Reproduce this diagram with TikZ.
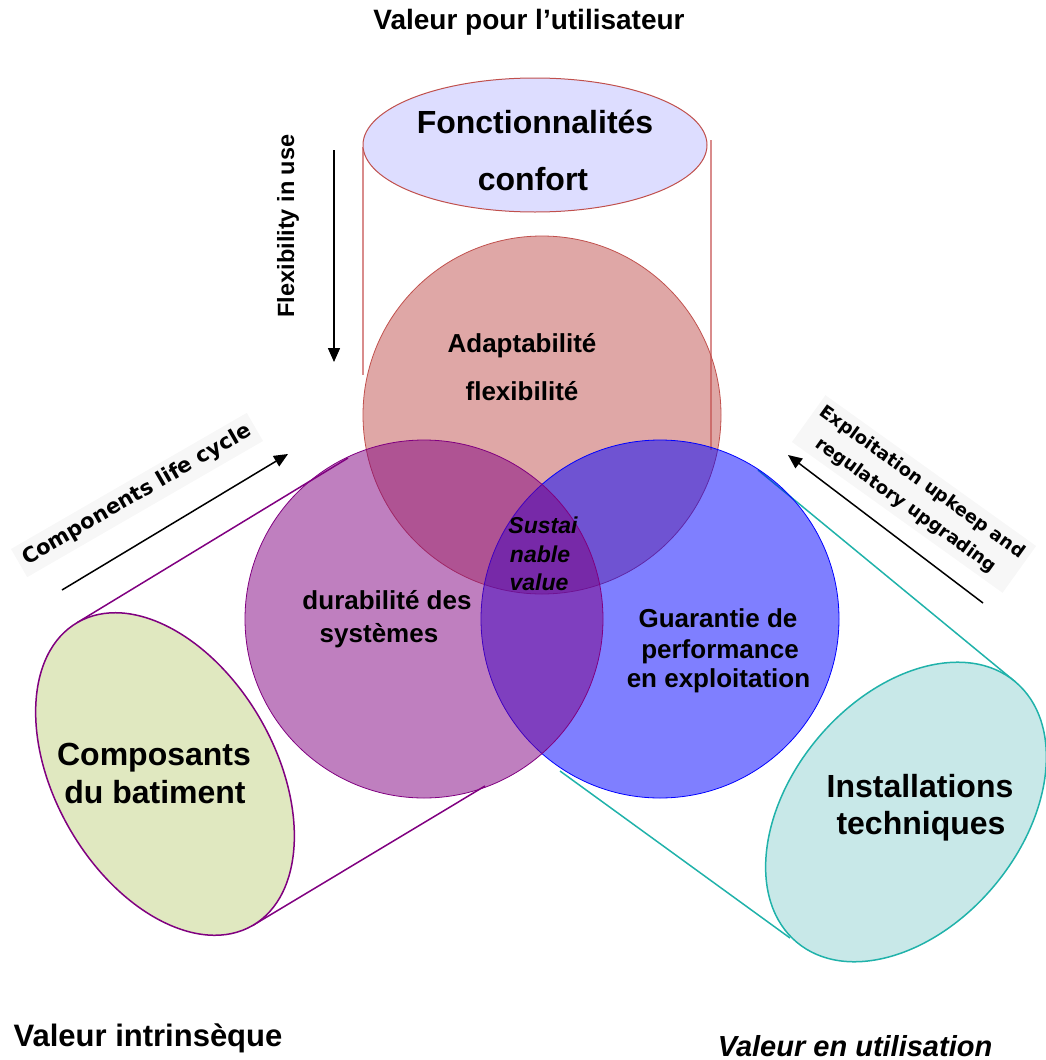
\documentclass[tikz,border=0pt]{standalone}
\usepackage{fontspec}
\setmainfont{Liberation Sans}
\newfontfamily\dejavu{DejaVu Sans}
\usetikzlibrary{arrows.meta}
\definecolor{topred}{HTML}{C0504D}
\definecolor{vpurple}{HTML}{800080}
\definecolor{vblue}{HTML}{0000FF}
\definecolor{lavender}{HTML}{DDDDFF}
\definecolor{olivefill}{HTML}{E0E8C0}
\definecolor{tealfill}{HTML}{C8E8E8}
\definecolor{tealline}{HTML}{20B2AA}
\definecolor{pinkline}{HTML}{D98C8C}
\definecolor{labelbg}{HTML}{F7F7F7}
\begin{document}
\begin{tikzpicture}[x=1pt,y=-1pt,
  txt/.style={inner sep=0pt, anchor=base, font=\fontsize{#1}{#1}\selectfont\bfseries},
  itxt/.style={inner sep=0pt, anchor=base, font=\fontsize{#1}{#1}\selectfont\bfseries\itshape},
  venn/.style={fill=#1, fill opacity=0.5, draw=#1, line width=0.8pt},
  flowarrow/.style={draw=black, line width=1.5pt, -{Triangle[length=14pt,width=12pt]}},
  tangentline/.style={draw=#1, line width=1.5pt},
  sidelabel/.style={fill=labelbg, inner sep=6pt}
]
\useasboundingbox (0,0) rectangle (1046,1060);

% cylinder sides of top ellipse
\coordinate (tl1) at (363,147);
\coordinate (tl2) at (363,375);
\coordinate (tr1) at (711,140);
\coordinate (tr2) at (711,450);
\draw[pinkline, line width=1.2pt] (tl1) -- (tl2);
\draw[pinkline, line width=1.2pt] (tr1) -- (tr2);

% top ellipse
\coordinate (topell) at (535,145);
\draw[fill=lavender, draw=topred, line width=1pt] (topell) ellipse [x radius=172, y radius=67];

% tangent lines to left ellipse
\coordinate (la1) at (77.5,622.4);
\coordinate (la2) at (348,458);
\coordinate (lb1) at (252.5,925.6);
\coordinate (lb2) at (485,786);
\draw[tangentline=vpurple] (la1) -- (la2);
\draw[tangentline=vpurple] (lb1) -- (lb2);

% tangent lines to right ellipse
\coordinate (ra1) at (758,470);
\coordinate (ra2) at (1015.3,681.8);
\coordinate (rb1) at (560,771);
\coordinate (rb2) at (790,938);
\draw[tangentline=tealline] (ra1) -- (ra2);
\draw[tangentline=tealline] (rb1) -- (rb2);

% side ellipses
\coordinate (lell) at (165,774);
\coordinate (rell) at (906,812);
\draw[fill=olivefill, draw=vpurple, line width=1.5pt, rotate around={30:(lell)}] (lell) ellipse [x radius=110, y radius=175];
\draw[fill=tealfill, draw=tealline, line width=1.5pt, rotate around={-40:(rell)}] (rell) ellipse [x radius=115, y radius=170];

% venn circles
\coordinate (ctop) at (542,415);
\coordinate (cright) at (660,619);
\coordinate (cleft) at (424,619);
\path[venn=topred] (ctop) circle [radius=179];
\path[venn=vblue] (cright) circle [radius=179];
\path[venn=vpurple] (cleft) circle [radius=179];

% arrows
\coordinate (fa1) at (334,150);
\coordinate (fa2) at (334,362);
\coordinate (ca1) at (62,590);
\coordinate (ca2) at (288,454);
\coordinate (ea1) at (983,603);
\coordinate (ea2) at (788,455);
\draw[flowarrow] (fa1) -- (fa2);
\draw[flowarrow] (ca1) -- (ca2);
\draw[flowarrow] (ea1) -- (ea2);

% rotated labels
\node[inner sep=0pt, rotate=90, font=\fontsize{23.5}{23.5}\selectfont\bfseries] (flex) at (288,226) {Flexibility in use};
\node[sidelabel, rotate=30, font=\dejavu\fontsize{21}{21}\selectfont\bfseries] (comp) at (137,495) {Components life cycle};
\node[sidelabel, rotate=-35.6, align=center, font=\dejavu\fontsize{18}{28}\selectfont\bfseries] (expl) at (914,494) {Exploitation upkeep and\\regulatory upgrading};

% texts
\node[txt=28] (title) at (529,29) {Valeur pour l’utilisateur};
\node[txt=32] (fonc1) at (535,133) {Fonctionnalités};
\node[txt=32] (fonc2) at (533,190) {confort};
\node[txt=26] (adap1) at (522,352) {Adaptabilité};
\node[txt=26] (adap2) at (522,400) {flexibilité};
\node[txt=26] (dur1) at (387,609) {durabilité des};
\node[txt=26] (dur2) at (379,642) {systèmes};
\node[txt=26] (gar1) at (718,627) {Guarantie de};
\node[txt=26] (gar2) at (720,658) {performance};
\node[txt=26] (gar3) at (718.5,687) {en exploitation};
\node[itxt=23] (sus1) at (543,533) {Sustai};
\node[itxt=23] (sus2) at (540,562) {nable};
\node[itxt=23] (sus3) at (539,590) {value};
\node[txt=32] (comp1) at (154,765) {Composants};
\node[txt=32] (comp2) at (155,803) {du batiment};
\node[txt=32] (inst1) at (920,797) {Installations};
\node[txt=32] (inst2) at (921,834) {techniques};
\node[txt=31] (vint) at (148,1046) {Valeur intrinsèque};
\node[itxt=29] (vutil) at (855,1056) {Valeur en utilisation};
\end{tikzpicture}
\end{document}
